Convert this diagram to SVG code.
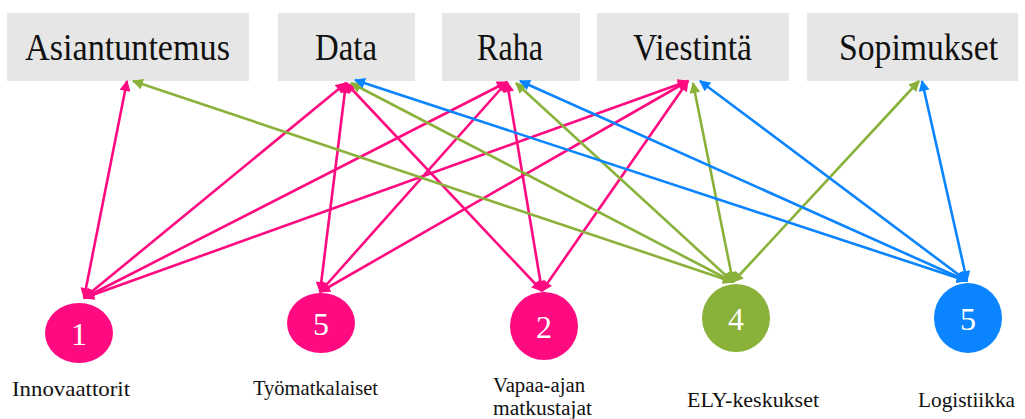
<svg xmlns="http://www.w3.org/2000/svg" width="1025" height="419" viewBox="0 0 1025 419">
  <style>
    .box { fill: #e6e6e6; }
    .head { font-family: "Liberation Serif", "DejaVu Serif", serif; font-size: 37px; fill: #111; text-anchor: start; }
    .lbl { font-family: "Liberation Serif", "DejaVu Serif", serif; font-size: 22px; fill: #111; }
    .lbl2 { font-size: 20px; }
    .num { font-family: "Liberation Serif", "DejaVu Serif", serif; font-size: 32px; fill: #fff; text-anchor: middle; }
    .pink { stroke: #ff0a80; }
    .green { stroke: #8ab23b; }
    .blue { stroke: #0a84ff; }
    .conn path { fill: none; stroke-width: 2.6; }
    .conn .pink { marker-start: url(#ap); marker-end: url(#ap); }
    .conn .green { marker-start: url(#ag); marker-end: url(#ag); }
    .conn .blue { marker-start: url(#ab); marker-end: url(#ab); }
  </style>
  <defs>
    <marker id="ap" viewBox="0 0 10 10" refX="9" refY="5" markerWidth="12" markerHeight="11" markerUnits="userSpaceOnUse" orient="auto-start-reverse">
      <path d="M0,0 L10,5 L0,10 z" fill="#ff0a80"/>
    </marker>
    <marker id="ag" viewBox="0 0 10 10" refX="9" refY="5" markerWidth="12" markerHeight="11" markerUnits="userSpaceOnUse" orient="auto-start-reverse">
      <path d="M0,0 L10,5 L0,10 z" fill="#8ab23b"/>
    </marker>
    <marker id="ab" viewBox="0 0 10 10" refX="9" refY="5" markerWidth="12" markerHeight="11" markerUnits="userSpaceOnUse" orient="auto-start-reverse">
      <path d="M0,0 L10,5 L0,10 z" fill="#0a84ff"/>
    </marker>
  </defs>

  <rect width="1025" height="419" fill="#fff"/>

  <!-- topic boxes -->
  <g id="asiantuntemus">
    <rect class="box" x="7" y="13" width="242" height="68"/>
    <text class="head" x="25" y="60" textLength="205" lengthAdjust="spacingAndGlyphs">Asiantuntemus</text>
  </g>
  <g id="data">
    <rect class="box" x="278" y="13" width="137" height="68"/>
    <text class="head" x="315" y="60" textLength="62" lengthAdjust="spacingAndGlyphs">Data</text>
  </g>
  <g id="raha">
    <rect class="box" x="442" y="13" width="138" height="68"/>
    <text class="head" x="477" y="60" textLength="66" lengthAdjust="spacingAndGlyphs">Raha</text>
  </g>
  <g id="viestinta">
    <rect class="box" x="597" y="13" width="192" height="68"/>
    <text class="head" x="633" y="60" textLength="119" lengthAdjust="spacingAndGlyphs">Viestintä</text>
  </g>
  <g id="sopimukset">
    <rect class="box" x="807" y="13" width="211" height="68"/>
    <text class="head" x="839" y="60" textLength="159" lengthAdjust="spacingAndGlyphs">Sopimukset</text>
  </g>

  <!-- connectors -->
  <g id="connectors" class="conn">
    <path class="pink" d="M84,298 L127,81"/>
    <path class="pink" d="M84,298 L346,83"/>
    <path class="pink" d="M84,298 L507,82"/>
    <path class="pink" d="M84,298 L688,81"/>
    <path class="pink" d="M320,292 L346,83"/>
    <path class="pink" d="M320,292 L507,82"/>
    <path class="pink" d="M320,292 L688,81"/>
    <path class="pink" d="M542,291 L346,83"/>
    <path class="pink" d="M542,291 L507,82"/>
    <path class="pink" d="M542,291 L688,81"/>
    <path class="green" d="M733,282 L133,81"/>
    <path class="green" d="M733,282 L351,83"/>
    <path class="green" d="M733,282 L516,83"/>
    <path class="green" d="M733,282 L693,83"/>
    <path class="green" d="M733,282 L919,81"/>
    <path class="blue" d="M967,281 L355,80"/>
    <path class="blue" d="M967,281 L520,81"/>
    <path class="blue" d="M967,281 L700,81"/>
    <path class="blue" d="M967,281 L922,81"/>
  </g>

  <!-- stakeholder nodes -->
  <g id="innovaattorit">
    <ellipse cx="79" cy="333" rx="34" ry="30" fill="#ff0a80"/>
    <text class="num" x="79" y="345">1</text>
    <text class="lbl" x="12" y="396" textLength="118" lengthAdjust="spacingAndGlyphs">Innovaattorit</text>
  </g>
  <g id="tyomatkalaiset">
    <ellipse cx="321" cy="323" rx="34" ry="30" fill="#ff0a80"/>
    <text class="num" x="321" y="335">5</text>
    <text class="lbl" x="253" y="395" textLength="125" lengthAdjust="spacingAndGlyphs">Työmatkalaiset</text>
  </g>
  <g id="vapaa-ajan">
    <ellipse cx="544" cy="326" rx="34" ry="34" fill="#ff0a80"/>
    <text class="num" x="544" y="338">2</text>
    <text class="lbl lbl2" x="493" y="392" textLength="92" lengthAdjust="spacingAndGlyphs">Vapaa-ajan</text>
    <text class="lbl lbl2" x="493" y="415" textLength="99" lengthAdjust="spacingAndGlyphs">matkustajat</text>
  </g>
  <g id="ely-keskukset">
    <ellipse cx="736" cy="318" rx="34" ry="34" fill="#8ab23b"/>
    <text class="num" x="736" y="330">4</text>
    <text class="lbl" x="687" y="407" textLength="132" lengthAdjust="spacingAndGlyphs">ELY-keskukset</text>
  </g>
  <g id="logistiikka">
    <ellipse cx="968" cy="318" rx="34" ry="35" fill="#0a84ff"/>
    <text class="num" x="968" y="330">5</text>
    <text class="lbl" x="918" y="407" textLength="97" lengthAdjust="spacingAndGlyphs">Logistiikka</text>
  </g>
</svg>
